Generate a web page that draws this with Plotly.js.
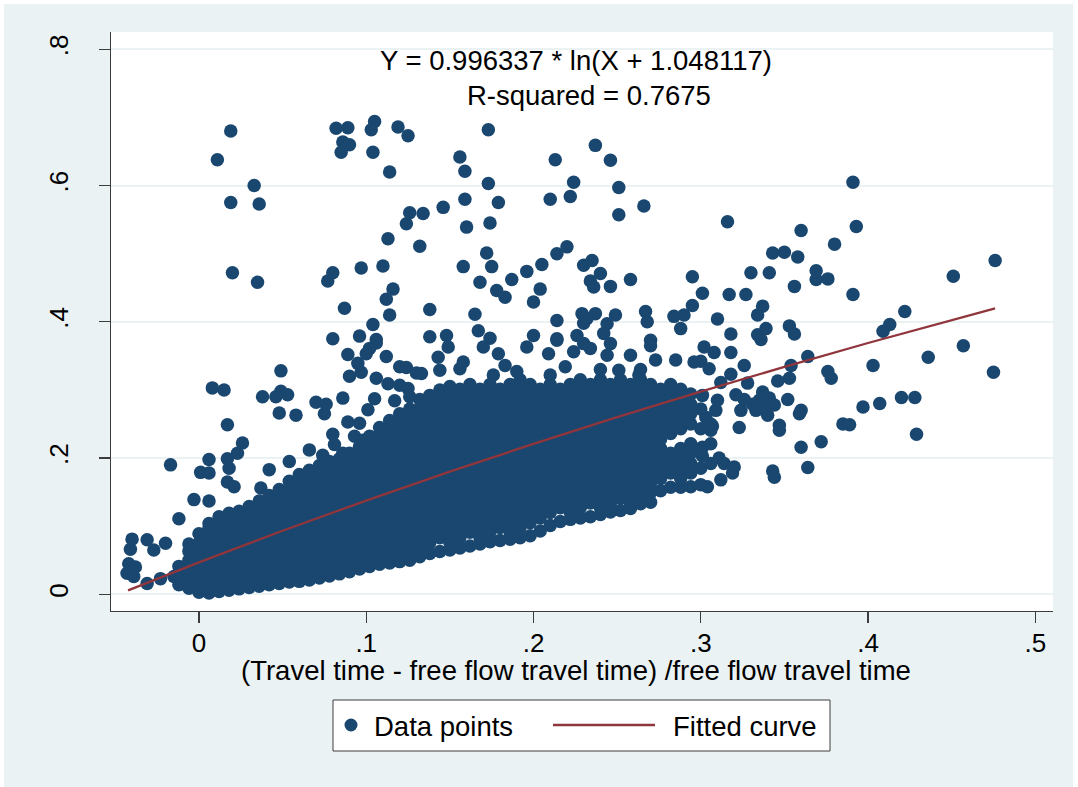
<!DOCTYPE html>
<html>
<head>
<meta charset="utf-8">
<script src="https://cdn.plot.ly/plotly-3.0.1.min.js"></script>
<style>html,body{margin:0;padding:0;background:#ffffff}</style>
</head>
<body>
<div id="chart" style="width:1078px;height:787px"></div>
<script>
// Axis ticks
const xTicks = [0, 0.1, 0.2, 0.3, 0.4, 0.5];
const xTickText = ['0', '.1', '.2', '.3', '.4', '.5'];
const yTicks = [0, 0.2, 0.4, 0.6, 0.8];
const yTickText = ['0', '.2', '.4', '.6', '.8'];

// Observations lying outside the dense core: [relative delay, y]
const loosePoints = [
  [0.019,0.680],[0.011,0.638],[0.033,0.600],[0.019,0.575],[0.036,0.573],[0.020,0.472],[0.035,0.458],
  [0.082,0.684],[0.089,0.685],[0.105,0.694],[0.103,0.682],[0.119,0.686],[0.125,0.673],[0.086,0.664],
  [0.090,0.660],[0.085,0.649],[0.104,0.649],[0.114,0.620],[0.126,0.560],[0.124,0.544],[0.113,0.522],
  [0.132,0.511],[0.080,0.472],[0.077,0.460],[0.097,0.479],[0.110,0.482],[0.116,0.448],[0.112,0.433],
  [0.087,0.420],[0.114,0.410],[0.104,0.396],[0.080,0.375],[0.096,0.379],[0.106,0.374],
  [0.173,0.682],[0.156,0.642],[0.159,0.621],[0.173,0.603],[0.159,0.580],[0.179,0.575],[0.146,0.568],
  [0.134,0.559],[0.160,0.539],[0.174,0.545],[0.172,0.501],[0.158,0.481],[0.175,0.481],[0.168,0.458],
  [0.178,0.446],[0.183,0.436],[0.187,0.462],[0.196,0.474],[0.205,0.484],
  [0.213,0.638],[0.224,0.605],[0.222,0.584],[0.210,0.580],[0.237,0.659],[0.246,0.637],[0.251,0.597],
  [0.251,0.557],[0.266,0.570],[0.214,0.500],[0.220,0.510],[0.204,0.448],[0.200,0.429],[0.230,0.483],
  [0.235,0.490],[0.240,0.471],[0.234,0.460],[0.236,0.451],[0.246,0.452],[0.258,0.462],
  [0.295,0.466],[0.301,0.442],[0.295,0.424],[0.290,0.410],[0.284,0.408],[0.288,0.390],[0.310,0.404],
  [0.267,0.415],[0.268,0.400],[0.249,0.410],[0.244,0.397],[0.229,0.412],[0.237,0.412],[0.230,0.398],
  [0.214,0.402],[0.138,0.418],[0.165,0.411],[0.167,0.387],[0.174,0.376],[0.138,0.378],[0.148,0.380],
  [0.200,0.380],[0.232,0.405],[0.242,0.383],[0.226,0.380],[0.270,0.373],[0.214,0.375],
  [0.391,0.605],[0.316,0.547],[0.393,0.540],[0.360,0.534],[0.380,0.514],[0.343,0.501],[0.350,0.502],
  [0.358,0.495],[0.476,0.490],[0.330,0.472],[0.341,0.472],[0.369,0.475],[0.369,0.462],[0.376,0.463],
  [0.451,0.467],[0.356,0.452],[0.391,0.440],[0.317,0.440],[0.327,0.440],[0.337,0.423],[0.334,0.410],
  [0.422,0.415],[0.413,0.396],[0.409,0.386],[0.353,0.394],[0.356,0.382],[0.339,0.390],[0.334,0.381],
  [0.336,0.374],[0.318,0.382],[0.302,0.363],[0.308,0.355],[0.318,0.355],[0.300,0.342],[0.305,0.331],
  [0.326,0.336],[0.364,0.349],[0.354,0.336],[0.353,0.317],[0.346,0.313],[0.328,0.310],[0.318,0.323],
  [0.312,0.311],[0.376,0.327],[0.378,0.317],[0.403,0.336],[0.436,0.348],[0.457,0.365],[0.475,0.326],
  [0.420,0.289],[0.428,0.289],[0.407,0.280],[0.397,0.275],[0.385,0.250],[0.389,0.249],[0.429,0.235],
  [0.372,0.224],[0.360,0.216],[0.347,0.248],[0.359,0.265],[0.360,0.270],[0.352,0.286],
  [0.335,0.285],[0.338,0.273],[0.341,0.288],[0.333,0.270],[0.344,0.278],[0.337,0.297],[0.331,0.279],
  [0.340,0.263],[0.324,0.270],[0.323,0.245],[0.307,0.247],[0.303,0.260],[0.309,0.270],[0.310,0.285],
  [0.301,0.292],[0.301,0.216],[0.321,0.293],[0.326,0.286],
  [0.306,0.241],[0.347,0.241],[0.301,0.203],[0.311,0.200],[0.314,0.192],[0.320,0.187],[0.319,0.178],
  [0.312,0.168],[0.304,0.158],[0.343,0.181],[0.344,0.172],[0.364,0.186],
  [0.106,0.369],[0.102,0.361],[0.100,0.353],[0.112,0.349],[0.089,0.352],[0.095,0.339],[0.097,0.326],
  [0.090,0.320],[0.106,0.317],[0.120,0.334],[0.124,0.333],[0.130,0.325],[0.113,0.309],[0.120,0.307],
  [0.125,0.302],[0.049,0.328],[0.008,0.303],[0.015,0.300],[0.038,0.290],[0.046,0.290],[0.049,0.298],
  [0.053,0.293],[0.048,0.266],[0.058,0.263],[0.070,0.282],[0.076,0.279],[0.075,0.265],[0.086,0.288],
  [0.105,0.287],[0.101,0.271],[0.117,0.284],[0.126,0.290],[0.017,0.249],[0.089,0.253],[0.096,0.251],
  [0.093,0.232],[0.098,0.226],[0.108,0.235],[0.116,0.236],[0.118,0.251],[0.126,0.241],[0.080,0.235],
  [0.081,0.220],[0.026,0.222],[0.023,0.207],[0.066,0.212],[0.054,0.195],[0.017,0.199],[0.018,0.185],
  [0.017,0.165],[0.021,0.158],[0.006,0.198],[0.001,0.179],[0.006,0.178],[-0.017,0.190],[0.042,0.183],
  [0.037,0.156],[0.074,0.204],[0.086,0.207],[-0.003,0.139],[0.006,0.137],[-0.012,0.111],
  [-0.040,0.081],[-0.041,0.066],[-0.031,0.080],[-0.027,0.065],[-0.020,0.075],[-0.042,0.045],
  [-0.038,0.040],[-0.043,0.031],[-0.039,0.026],[-0.031,0.016],[-0.023,0.023],[-0.015,0.026],
  [-0.010,0.016],
  [0.149,0.363],[0.170,0.363],[0.179,0.353],[0.183,0.336],[0.196,0.363],[0.214,0.373],[0.209,0.353],
  [0.224,0.356],[0.230,0.368],[0.234,0.361],[0.246,0.368],[0.244,0.351],[0.258,0.351],[0.270,0.365],
  [0.273,0.344],[0.285,0.344],[0.296,0.341],[0.143,0.348],[0.133,0.324],[0.144,0.329],[0.156,0.331],
  [0.158,0.341],[0.190,0.327],[0.219,0.334],[0.251,0.329],[0.263,0.322],[0.176,0.322]
];

// Dense core of the cloud, grouped by relative-delay value
const coreX = [
  -0.012,-0.006,0.000,0.006,0.012,0.018,0.024,0.030,0.036,0.042,0.048,0.054,0.060,0.066,0.072,0.078,
  0.084,0.090,0.096,0.102,0.108,0.114,0.120,0.126,0.132,0.138,0.144,0.150,0.156,0.162,0.168,0.174,
  0.180,0.186,0.192,0.198,0.204,0.210,0.216,0.222,0.228,0.234,0.240,0.246,0.252,0.258,0.264,0.270,
  0.276,0.282,0.288,0.294,0.300,0.306
];
const coreY = [
  [0.014,0.028,0.041],
  [0.009,0.022,0.036,0.050,0.063,0.074],
  [0.003,0.017,0.031,0.046,0.061,0.075,0.089],
  [0.002,0.010,0.024,0.039,0.053,0.068,0.083,0.097,0.104],
  [0.004,0.018,0.032,0.047,0.061,0.076,0.091,0.105,0.114],
  [0.006,0.011,0.025,0.040,0.054,0.069,0.084,0.098,0.112,0.119],
  [0.008,0.021,0.036,0.050,0.065,0.079,0.094,0.108,0.122],
  [0.010,0.014,0.029,0.043,0.058,0.072,0.087,0.101,0.116,0.129],
  [0.012,0.024,0.038,0.053,0.067,0.082,0.096,0.111,0.125,0.137],
  [0.014,0.018,0.032,0.047,0.061,0.076,0.090,0.105,0.119,0.134,0.145],
  [0.016,0.027,0.041,0.056,0.070,0.085,0.099,0.114,0.128,0.143,0.154],
  [0.018,0.022,0.036,0.051,0.065,0.080,0.094,0.109,0.123,0.138,0.152,0.166],
  [0.019,0.031,0.046,0.060,0.075,0.089,0.104,0.118,0.133,0.147,0.162,0.176],
  [0.021,0.026,0.040,0.055,0.069,0.084,0.098,0.113,0.127,0.142,0.156,0.171,0.182],
  [0.024,0.035,0.050,0.064,0.079,0.093,0.108,0.122,0.137,0.151,0.166,0.180,0.189],
  [0.027,0.030,0.044,0.059,0.073,0.088,0.102,0.117,0.131,0.146,0.160,0.175,0.189,0.195],
  [0.030,0.039,0.054,0.068,0.083,0.097,0.112,0.126,0.141,0.155,0.170,0.184,0.199],
  [0.033,0.048,0.062,0.077,0.091,0.106,0.120,0.135,0.149,0.164,0.178,0.193,0.207],
  [0.037,0.043,0.057,0.072,0.086,0.101,0.115,0.130,0.144,0.159,0.173,0.188,0.202,0.217],
  [0.041,0.052,0.066,0.081,0.095,0.110,0.124,0.139,0.153,0.168,0.182,0.197,0.211,0.226,0.232],
  [0.044,0.047,0.061,0.076,0.090,0.105,0.119,0.134,0.148,0.163,0.177,0.192,0.206,0.221,0.235,0.245],
  [0.046,0.056,0.070,0.085,0.099,0.114,0.128,0.143,0.157,0.172,0.186,0.201,0.215,0.230,0.244,0.255],
  [0.048,0.051,0.065,0.080,0.094,0.109,0.123,0.138,0.152,0.167,0.181,0.196,0.210,0.225,0.239,0.254,0.265],
  [0.050,0.060,0.074,0.089,0.103,0.118,0.132,0.147,0.161,0.176,0.190,0.205,0.219,0.234,0.248,0.263,0.272],
  [0.055,0.069,0.083,0.098,0.112,0.127,0.141,0.156,0.170,0.185,0.199,0.214,0.228,0.243,0.257,0.272,0.286],
  [0.060,0.076,0.091,0.105,0.120,0.134,0.149,0.163,0.178,0.192,0.207,0.221,0.236,0.250,0.265,0.279,0.292],
  [0.063,0.083,0.098,0.112,0.127,0.141,0.156,0.170,0.185,0.199,0.214,0.228,0.243,0.257,0.272,0.286,0.300],
  [0.065,0.076,0.091,0.105,0.120,0.134,0.149,0.163,0.178,0.192,0.207,0.221,0.236,0.250,0.265,0.279,0.294,0.305],
  [0.068,0.083,0.098,0.112,0.127,0.141,0.156,0.170,0.185,0.199,0.214,0.228,0.243,0.257,0.272,0.286,0.301],
  [0.071,0.091,0.105,0.120,0.134,0.149,0.163,0.178,0.192,0.207,0.221,0.236,0.250,0.265,0.279,0.294,0.308],
  [0.074,0.083,0.098,0.112,0.127,0.141,0.156,0.170,0.185,0.199,0.214,0.228,0.243,0.257,0.272,0.286,0.301],
  [0.077,0.091,0.105,0.120,0.134,0.149,0.163,0.178,0.192,0.207,0.221,0.236,0.250,0.265,0.279,0.294,0.308],
  [0.079,0.098,0.112,0.127,0.141,0.156,0.170,0.185,0.199,0.214,0.228,0.243,0.257,0.272,0.286,0.301],
  [0.081,0.091,0.105,0.120,0.134,0.149,0.163,0.178,0.192,0.207,0.221,0.236,0.250,0.265,0.279,0.294,0.308],
  [0.083,0.098,0.112,0.127,0.141,0.156,0.170,0.185,0.199,0.214,0.228,0.243,0.257,0.272,0.286,0.301,0.315],
  [0.086,0.105,0.120,0.134,0.149,0.163,0.178,0.192,0.207,0.221,0.236,0.250,0.265,0.279,0.294,0.308],
  [0.093,0.112,0.127,0.141,0.156,0.170,0.185,0.199,0.214,0.228,0.243,0.257,0.272,0.286,0.301],
  [0.101,0.120,0.134,0.149,0.163,0.178,0.192,0.207,0.221,0.236,0.250,0.265,0.279,0.294,0.308,0.322],
  [0.107,0.127,0.141,0.156,0.170,0.185,0.199,0.214,0.228,0.243,0.257,0.272,0.286,0.301],
  [0.110,0.120,0.134,0.149,0.163,0.178,0.192,0.207,0.221,0.236,0.250,0.265,0.279,0.294,0.308],
  [0.112,0.127,0.141,0.156,0.170,0.185,0.199,0.214,0.228,0.243,0.257,0.272,0.286,0.301,0.315],
  [0.114,0.134,0.149,0.163,0.178,0.192,0.207,0.221,0.236,0.250,0.265,0.279,0.294,0.308],
  [0.117,0.127,0.141,0.156,0.170,0.185,0.199,0.214,0.228,0.243,0.257,0.272,0.286,0.301,0.315,0.330],
  [0.121,0.134,0.149,0.163,0.178,0.192,0.207,0.221,0.236,0.250,0.265,0.279,0.294,0.308],
  [0.123,0.141,0.156,0.170,0.185,0.199,0.214,0.228,0.243,0.257,0.272,0.286,0.301,0.315],
  [0.126,0.134,0.149,0.163,0.178,0.192,0.207,0.221,0.236,0.250,0.265,0.279,0.294,0.308],
  [0.133,0.141,0.156,0.170,0.185,0.199,0.214,0.228,0.243,0.257,0.272,0.286,0.301,0.315,0.330],
  [0.135,0.149,0.163,0.178,0.192,0.207,0.221,0.236,0.250,0.265,0.279,0.294,0.308],
  [0.152,0.170,0.185,0.199,0.214,0.228,0.243,0.257,0.272,0.286,0.301],
  [0.157,0.178,0.192,0.207,0.236,0.250,0.265,0.279,0.294,0.308],
  [0.157,0.170,0.185,0.199,0.214,0.243,0.257,0.272,0.286,0.301],
  [0.158,0.178,0.192,0.207,0.221,0.250,0.265,0.279,0.294],
  [0.161,0.185,0.214,0.243,0.272],
  [0.192,0.221,0.250]
];

// Fitted curve Y = 0.996337 * ln(X + 1.048117), evaluated along the data range
const fitX = [-0.0424, 0.000, 0.050, 0.100, 0.150, 0.200, 0.250, 0.300, 0.350, 0.400, 0.476];
const fitY = [0.00568, 0.04682, 0.09325, 0.13762, 0.18009, 0.22082, 0.25996, 0.29762, 0.33390, 0.36891, 0.41987];

const equationText = 'Y = 0.996337 * ln(X + 1.048117)';
const rSquaredText = 'R-squared = 0.7675';
const xTitle = '(Travel time - free flow travel time) /free flow travel time';
const seriesNames = ['Data points', 'Fitted curve'];

// Flatten observations
const obsX = [], obsY = [];
loosePoints.forEach(p => { obsX.push(p[0]); obsY.push(p[1]); });
coreX.forEach((cx, i) => coreY[i].forEach(v => { obsX.push(cx); obsY.push(v); }));

const NAVY = '#1a476f';
const MAROON = '#90353b';
const BG = '#eaf2f3';
const AXIS = '#3c3c3c';
const FONT = 'Liberation Sans, Arial, Helvetica, sans-serif';
const TXT = 27.5;

const traces = [
  {
    type: 'scatter', mode: 'markers', name: seriesNames[0],
    x: obsX, y: obsY,
    marker: { color: NAVY, size: 13.5, line: { width: 0 } },
    hoverinfo: 'skip'
  },
  {
    type: 'scatter', mode: 'lines', name: seriesNames[1],
    x: fitX, y: fitY,
    line: { color: MAROON, width: 2.3 },
    hoverinfo: 'skip'
  }
];

// plot area: 942 x 579 px, offset (111, 32)
const PW = 942, PH = 579, PL = 111, PT = 32;
const px = v => (v - PL) / PW;
const py = v => (PT + PH - v) / PH;

const shapes = [
  // thin white frame around the graph region
  { type: 'rect', xref: 'paper', yref: 'paper', x0: px(0), x1: px(4), y0: py(787), y1: py(0), fillcolor: '#ffffff', line: { width: 0 }, layer: 'below' },
  { type: 'rect', xref: 'paper', yref: 'paper', x0: px(0), x1: px(1078), y0: py(4), y1: py(0), fillcolor: '#ffffff', line: { width: 0 }, layer: 'below' },
  { type: 'rect', xref: 'paper', yref: 'paper', x0: px(1073), x1: px(1078), y0: py(787), y1: py(0), fillcolor: '#ffffff', line: { width: 0 }, layer: 'below' },
  // legend box
  { type: 'rect', xref: 'paper', yref: 'paper', x0: px(333), x1: px(830), y0: py(751), y1: py(700), fillcolor: '#ffffff', line: { color: AXIS, width: 1 } },
  // legend keys
  { type: 'circle', xref: 'paper', yref: 'paper', xsizemode: 'pixel', ysizemode: 'pixel',
    xanchor: px(351), yanchor: py(725), x0: -6.5, x1: 6.5, y0: -6.5, y1: 6.5,
    fillcolor: NAVY, line: { width: 0 } },
  { type: 'line', xref: 'paper', yref: 'paper', x0: px(553), x1: px(655), y0: py(725), y1: py(725),
    line: { color: MAROON, width: 2.3 } }
];

const annotations = [
  { xref: 'paper', yref: 'paper', x: px(575.5), y: py(60), xanchor: 'center', yanchor: 'middle',
    text: equationText, showarrow: false, font: { size: TXT, color: '#000' } },
  { xref: 'paper', yref: 'paper', x: px(589), y: py(95), xanchor: 'center', yanchor: 'middle',
    text: rSquaredText, showarrow: false, font: { size: TXT, color: '#000' } },
  { xref: 'paper', yref: 'paper', x: px(576), y: py(670), xanchor: 'center', yanchor: 'middle',
    text: xTitle, showarrow: false, font: { size: TXT, color: '#000' } },
  { xref: 'paper', yref: 'paper', x: px(372), y: py(726), xanchor: 'left', yanchor: 'middle',
    text: seriesNames[0], showarrow: false, font: { size: TXT, color: '#000' } },
  { xref: 'paper', yref: 'paper', x: px(671), y: py(726), xanchor: 'left', yanchor: 'middle',
    text: seriesNames[1], showarrow: false, font: { size: TXT, color: '#000' } }
];

const layout = {
  width: 1078, height: 787,
  paper_bgcolor: BG, plot_bgcolor: '#ffffff',
  margin: { l: PL, r: 1078 - PL - PW, t: PT, b: 787 - PT - PH, pad: 0 },
  font: { family: FONT, color: '#000', size: 26 },
  showlegend: false,
  xaxis: {
    range: [-0.0526, 0.5106],
    tickmode: 'array', tickvals: xTicks, ticktext: xTickText,
    showgrid: false, zeroline: false,
    showline: true, linecolor: AXIS, linewidth: 1.3,
    ticks: 'outside', ticklen: 11, tickwidth: 1.3, tickcolor: AXIS,
    tickfont: { size: 26, color: '#000' }, ticklabelstandoff: -3,
    fixedrange: true
  },
  yaxis: {
    range: [-0.0245, 0.8254],
    tickmode: 'array', tickvals: yTicks, ticktext: yTickText, tickangle: -90,
    showgrid: true, gridcolor: BG, gridwidth: 2, zeroline: false,
    showline: true, linecolor: AXIS, linewidth: 1.3,
    ticks: 'outside', ticklen: 11, tickwidth: 1.3, tickcolor: AXIS,
    tickfont: { size: 26, color: '#000' }, ticklabelstandoff: 20,
    fixedrange: true
  },
  shapes: shapes,
  annotations: annotations
};

Plotly.newPlot('chart', traces, layout, { displayModeBar: false, staticPlot: true });
</script>
</body>
</html>
